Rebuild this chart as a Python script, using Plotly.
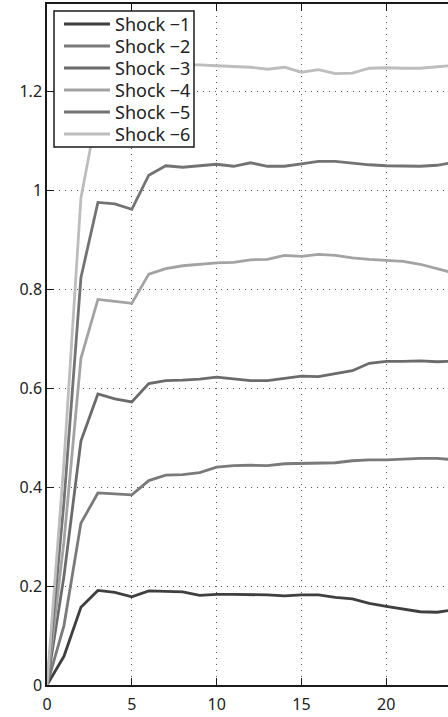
import plotly.graph_objects as go

# Periods after the shock
periods = list(range(0, 25))

# Cumulative responses for each shock size
shock_1 = [0, 0.058, 0.157, 0.191, 0.187, 0.178, 0.190, 0.189, 0.188, 0.181, 0.183, 0.183, 0.183,
           0.182, 0.180, 0.182, 0.182, 0.177, 0.174, 0.165, 0.159, 0.153, 0.148, 0.147, 0.152]
shock_2 = [0, 0.12, 0.327, 0.388, 0.386, 0.384, 0.413, 0.424, 0.425, 0.429, 0.440, 0.443, 0.444,
           0.443, 0.447, 0.448, 0.448, 0.449, 0.453, 0.455, 0.455, 0.457, 0.458, 0.458, 0.455]
shock_3 = [0, 0.22, 0.493, 0.588, 0.578, 0.572, 0.609, 0.615, 0.616, 0.618, 0.622, 0.619, 0.615,
           0.615, 0.619, 0.624, 0.623, 0.629, 0.635, 0.650, 0.654, 0.654, 0.655, 0.653, 0.654]
shock_4 = [0, 0.29, 0.660, 0.779, 0.775, 0.771, 0.830, 0.841, 0.847, 0.850, 0.853, 0.854, 0.859,
           0.860, 0.868, 0.866, 0.870, 0.868, 0.863, 0.860, 0.858, 0.856, 0.850, 0.841, 0.832]
shock_5 = [0, 0.37, 0.823, 0.975, 0.972, 0.961, 1.030, 1.049, 1.046, 1.049, 1.052, 1.048, 1.055,
           1.048, 1.048, 1.053, 1.058, 1.058, 1.054, 1.051, 1.049, 1.048, 1.048, 1.050, 1.056]
shock_6 = [0, 0.45, 0.984, 1.165, 1.200, 1.190, 1.240, 1.252, 1.253, 1.253, 1.251, 1.249, 1.248,
           1.244, 1.248, 1.238, 1.243, 1.235, 1.236, 1.246, 1.247, 1.246, 1.246, 1.249, 1.252]

series_names = ["Shock \u22121", "Shock \u22122", "Shock \u22123",
                "Shock \u22124", "Shock \u22125", "Shock \u22126"]
series_values = [shock_1, shock_2, shock_3, shock_4, shock_5, shock_6]
series_colors = ["#3f3f3f", "#7a7a7a", "#6b6b6b", "#a3a3a3", "#737373", "#bdbdbd"]

x_ticks = [0, 5, 10, 15, 20]
y_ticks = [0, 0.2, 0.4, 0.6, 0.8, 1.0, 1.2]

W, H = 448, 717
M_L, M_R, M_T, M_B = 47, 0, 4, 32
plot_w = W - M_L - M_R
plot_h = H - M_T - M_B


def px_to_paper(px, py):
    """Pixel position on the page -> paper coordinates of the plot area."""
    return (px - M_L) / plot_w, (H - M_B - py) / plot_h


fig = go.Figure()
for name, vals, col in zip(series_names, series_values, series_colors):
    fig.add_trace(go.Scatter(
        x=periods, y=vals, name=name, mode="lines",
        line=dict(color=col, width=2.8),
    ))

font_family = "Noto Sans"
axis_common = dict(
    showline=True, linecolor="#1a1a1a", linewidth=1.5,
    ticks="inside", ticklen=7, tickwidth=1.2, tickcolor="#1a1a1a",
    showgrid=True, gridcolor="#555555", gridwidth=1, griddash="1px,5px",
    zeroline=False, automargin=False,
    tickfont=dict(family=font_family, size=16, color="#222222"),
)

# Legend box drawn in the upper-left corner of the axes
shapes = []
annotations = []
bx0, by0 = px_to_paper(54, 11)
bx1, by1 = px_to_paper(194, 147)
shapes.append(dict(type="rect", xref="paper", yref="paper",
                   x0=bx0, x1=bx1, y0=by1, y1=by0,
                   fillcolor="white", line=dict(color="#1a1a1a", width=1.5),
                   layer="above"))
for i, (name, col) in enumerate(zip(series_names, series_colors)):
    row_y = 24 + 22 * i
    lx0, ly = px_to_paper(64, row_y)
    lx1, _ = px_to_paper(110, row_y)
    shapes.append(dict(type="line", xref="paper", yref="paper",
                       x0=lx0, x1=lx1, y0=ly, y1=ly,
                       line=dict(color=col, width=2.8), layer="above"))
    tx, _ = px_to_paper(113, row_y)
    annotations.append(dict(xref="paper", yref="paper", x=tx, y=ly,
                            xanchor="left", yanchor="middle", showarrow=False,
                            text=name,
                            font=dict(family=font_family, size=18, color="#222222")))

fig.update_layout(
    width=W, height=H,
    margin=dict(l=M_L, r=M_R, t=M_T, b=M_B, autoexpand=False),
    paper_bgcolor="white", plot_bgcolor="white",
    showlegend=False,
    shapes=shapes,
    annotations=annotations,
    xaxis=dict(range=[0, 23.64], tickvals=x_ticks, mirror="allticks",
               ticklabelstandoff=4, **axis_common),
    yaxis=dict(range=[0, 1.3758], tickvals=y_ticks, mirror=False, **axis_common),
)

fig.write_html("out.html")
